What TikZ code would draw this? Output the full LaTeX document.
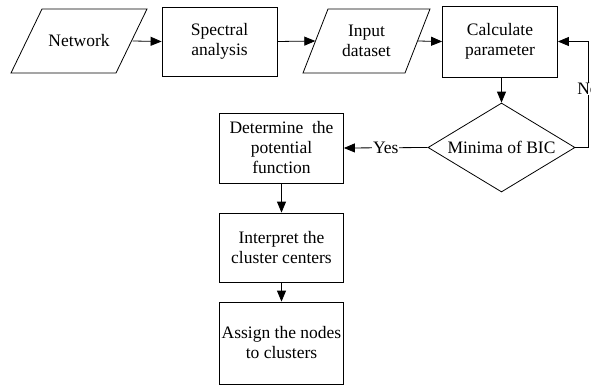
\documentclass[tikz,border=0pt]{standalone}
\usepackage{fontspec}
\setmainfont{Liberation Serif}
\usetikzlibrary{shapes.geometric,arrows.meta}
\begin{document}
\begin{tikzpicture}[x=1pt,y=-1pt,
  every node/.style={font=\fontsize{17.5}{20}\selectfont, align=center, inner sep=0pt},
  procbox/.style={draw, line width=0.8pt, minimum width=#1},
  iobox/.style={minimum width=#1, minimum height=64pt},
  decision/.style={draw, line width=0.8pt, diamond, aspect=1.65, minimum width=147pt, minimum height=89pt},
  flow/.style={line width=0.8pt, -{Triangle[length=11pt,width=9pt]}},
  lbl/.style={fill=white, inner xsep=1pt}
]
\clip (0,0) rectangle (591,388);
\fill[white] (0,0) rectangle (591,388);

% top row
\node[iobox=107pt] (net) at (79,41) {Network};
\draw[line width=0.8pt] (42,9) -- (147,9) -- (116,73) -- (11,73) -- cycle;

\node[procbox=115pt, minimum height=69pt] (spec) at (219.5,41.5) {Spectral\\analysis};

\node[iobox=102pt] (inp) at (366.5,41) {Input\\dataset};
\draw[line width=0.8pt] (328,9) -- (430,9) -- (405,73) -- (303,73) -- cycle;

\node[procbox=115pt, minimum height=71pt] (calc) at (500,41.5) {Calculate\\parameter};

% decision
\node[decision] (bic) at (501.5,147.5) {Minima of BIC};

% left column
\node[procbox=124pt, minimum height=70pt] (pot) at (281.5,148) {Determine~ the\\potential\\function};
\node[procbox=124pt, minimum height=69pt] (cen) at (281.5,247.5) {Interpret the\\cluster centers};
\node[procbox=124pt, minimum height=82pt] (asg) at (281.5,343) {Assign the nodes\\to clusters};

% connectors
\draw[flow] (net.east) -- (spec.west);
\draw[flow] (spec.east) -- (inp.west);
\draw[flow] (inp.east) -- (calc.west);
\draw[flow] (calc.south -| bic.north) -- (bic.north);
\draw[flow] (bic.west) -- node[lbl, pos=0.5] {Yes} (pot.east);
\coordinate (loopr) at (588,147.5);
\draw[flow] (bic.east) -- (loopr) -- node[lbl, pos=0.55] {No} (loopr |- calc.east) -- (calc.east);
\draw[flow] (pot.south) -- (cen.north);
\draw[flow] (cen.south) -- (asg.north);
\end{tikzpicture}
\end{document}
